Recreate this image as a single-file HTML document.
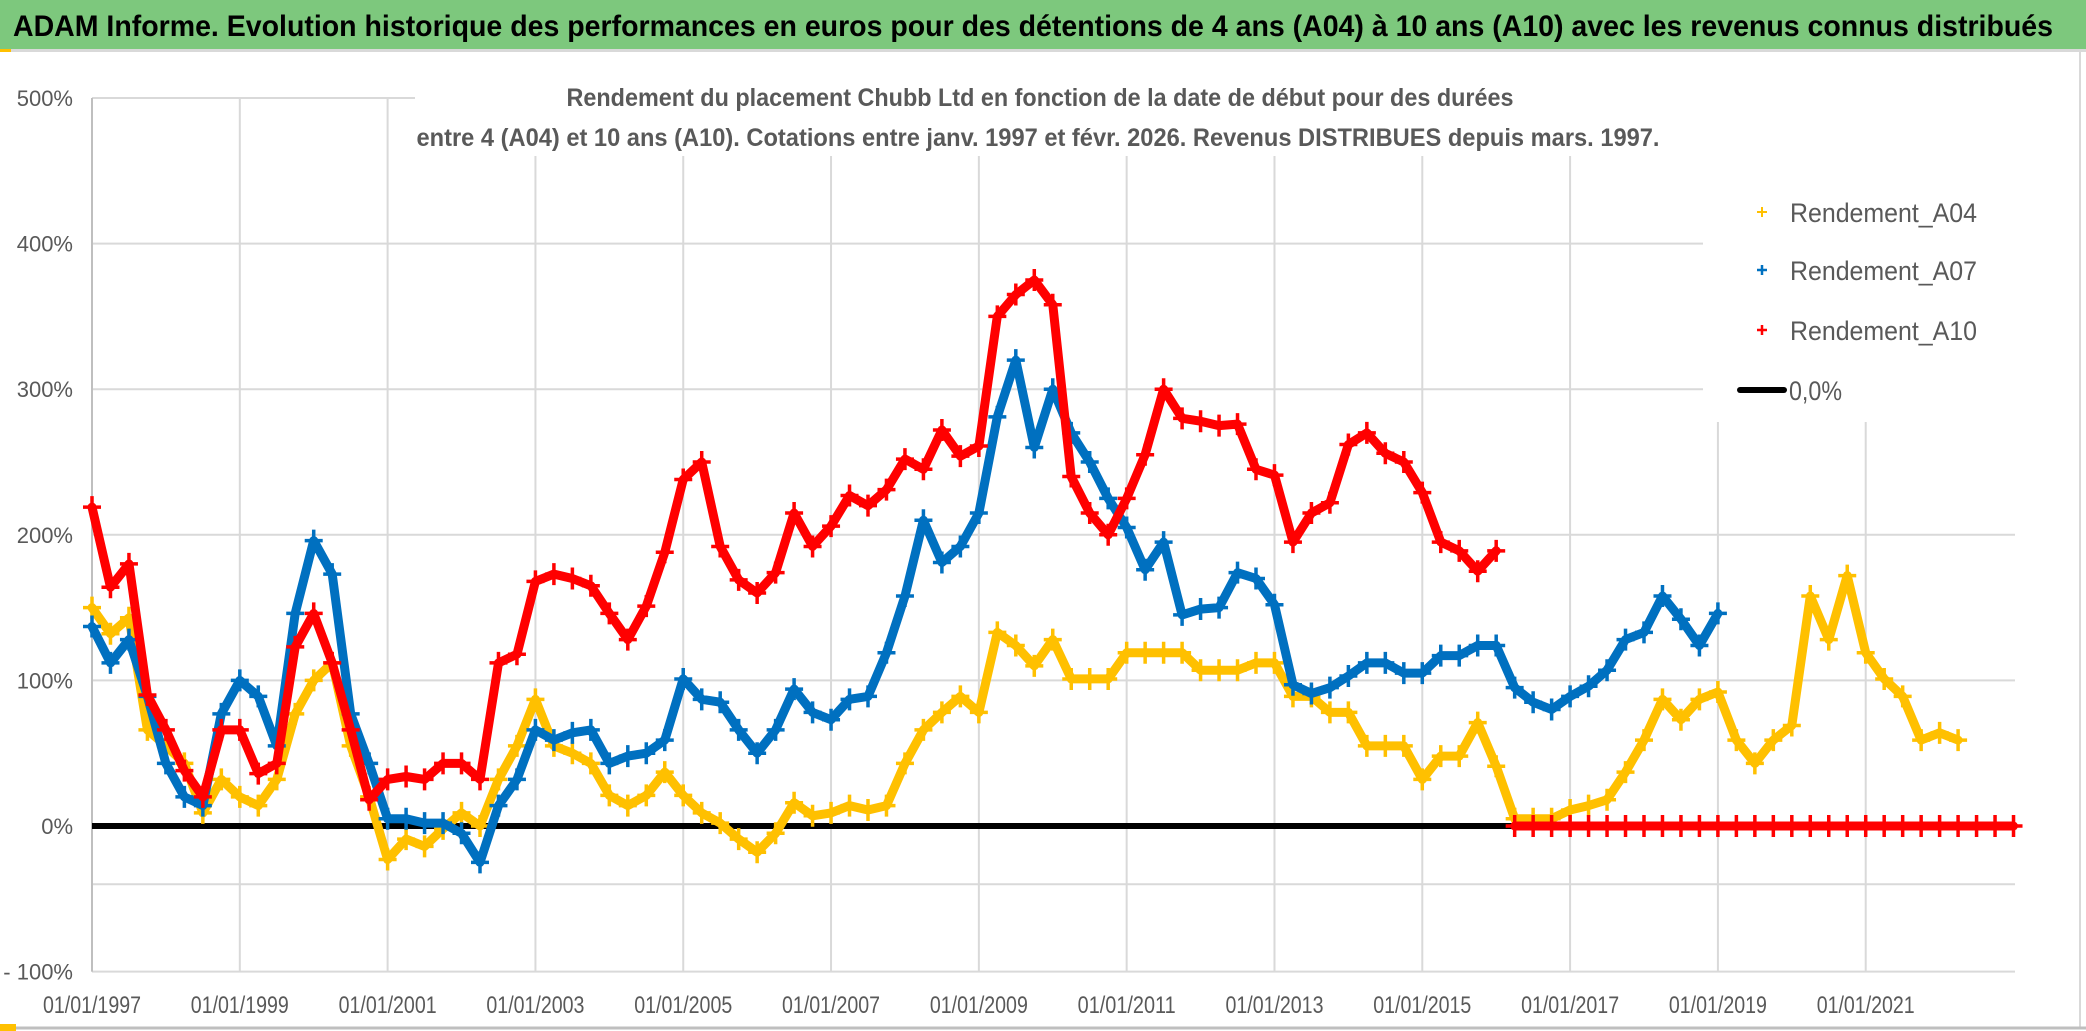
<!DOCTYPE html>
<html><head><meta charset="utf-8"><style>
html,body{margin:0;padding:0;background:#fff;}
svg{display:block;font-family:"Liberation Sans",sans-serif;}
</style></head><body>
<svg id="chart" width="2086" height="1031" viewBox="0 0 2086 1031" xmlns="http://www.w3.org/2000/svg">
<rect x="0" y="0" width="2086" height="1031" fill="#fff"/>
<rect x="0" y="0" width="2086" height="49" fill="#7dc87d"/>
<rect x="0" y="49" width="2086" height="3" fill="#d9d9d9"/>
<rect x="0" y="49" width="11" height="3" fill="#ffc000"/>
<text x="13" y="36" font-size="30" font-weight="bold" fill="#000" textLength="2040" lengthAdjust="spacingAndGlyphs">ADAM Informe. Evolution historique des performances en euros pour des détentions de 4 ans (A04) à 10 ans (A10) avec les revenus connus distribués</text>
<line x1="2080" y1="52" x2="2080" y2="1028" stroke="#d9d9d9" stroke-width="2"/>
<line x1="0" y1="1028" x2="2086" y2="1028" stroke="#bfbfbf" stroke-width="3"/>
<rect x="0" y="1024" width="16" height="7" fill="#ffc000"/>
<g id="grid"></g>
<g id="axes"></g>
<g id="series"></g>
<rect x="415" y="86" width="1605" height="70" fill="#fff"/>
<rect x="1703" y="86" width="317" height="336" fill="#fff"/>
<text x="1040" y="106" font-size="25" font-weight="bold" fill="#595959" text-anchor="middle" textLength="947" lengthAdjust="spacingAndGlyphs">Rendement du placement Chubb Ltd en fonction de la date de début pour des durées</text>
<text x="1038" y="146" font-size="25" font-weight="bold" fill="#595959" text-anchor="middle" textLength="1243" lengthAdjust="spacingAndGlyphs">entre 4 (A04) et 10 ans (A10). Cotations entre janv. 1997 et févr. 2026. Revenus DISTRIBUES depuis mars. 1997.</text>
<g>
 <g>
  <path d="M1757 212h10M1762 207v10" stroke="#ffc000" stroke-width="2"/>
  <text x="1790" y="222" font-size="27" fill="#595959" textLength="187" lengthAdjust="spacingAndGlyphs">Rendement_A04</text>
 </g>
 <g>
  <path d="M1757 270h10M1762 265v10" stroke="#0070c0" stroke-width="2.5"/>
  <text x="1790" y="280" font-size="27" fill="#595959" textLength="187" lengthAdjust="spacingAndGlyphs">Rendement_A07</text>
 </g>
 <g>
  <path d="M1757 330h10M1762 325v10" stroke="#ff0000" stroke-width="2.5"/>
  <text x="1790" y="340" font-size="27" fill="#595959" textLength="187" lengthAdjust="spacingAndGlyphs">Rendement_A10</text>
 </g>
 <g>
  <line x1="1740" y1="390" x2="1784" y2="390" stroke="#000" stroke-width="6" stroke-linecap="round"/>
  <text x="1789" y="400" font-size="27" fill="#595959" textLength="53" lengthAdjust="spacingAndGlyphs">0,0%</text>
 </g>
</g>
</svg>
<script>
// ---- data (quarterly values, % return) ----
const a04Start = 1997.0;
const a04Values = [150,132,143,66, 55,43,9,32, 20,14,32,77, 100,112,55,20, -23,-9,-14,-2, 9,0,32,55, 87,55,50,43, 21,14,21,37, 21,9,2,-9, -18,-5,16,7, 9,14,11,14, 43,66,78,89, 78,133,124,110, 128,101,101,101, 119,119,119,119, 107,107,107,112, 112,89,89,78, 78,55,55,55, 32,48,48,71, 41,5,5,5, 11,14,18,37, 59,87,73,87, 92,59,43,59, 69,158,128,172, 119,101,89,59, 64,59];
const a07Start = 1997.0;
const a07Values = [137,112,128,89, 43,20,14,77, 100,89,55,146, 196,173,77,43, 5,5,2,2, -5,-25,14,32, 66,59,64,66, 43,48,50,59, 101,87,85,66, 50,66,94,78, 73,87,89,119, 158,210,181,192, 215,281,320,260, 300,270,250,225, 205,176,195,145, 149,150,174,170, 152,97,91,95, 103,112,112,105, 105,117,117,124, 124,95,85,80, 89,96,107,128, 133,158,142,124, 146];
const a10Start = 1997.0;
const a10Values = [219,164,180,90, 66,38,20,66, 66,36,43,123, 146,112,66,18, 32,34,32,43, 43,32,112,118, 168,173,170,165, 146,128,151,188, 238,250,192,169, 160,174,215,192, 206,227,220,231, 252,245,272,254, 261,350,365,375, 358,240,215,200, 225,255,300,280, 278,275,276,245, 241,195,215,222, 262,270,256,250, 229,195,189,175, 189,0,0,0, 0,0,0,0, 0,0,0,0, 0,0,0,0, 0,0,0,0, 0,0,0,0, 0,0,0,0, 0];
const stepYears = 0.25;
const yTicks = [500,400,300,200,100,0,-100];
const yTickLabels = ["500%","400%","300%","200%","100%","0%","- 100%"];
const xTicks = [1997,1999,2001,2003,2005,2007,2009,2011,2013,2015,2017,2019,2021];
const xTickLabels = ["01/01/1997","01/01/1999","01/01/2001","01/01/2003","01/01/2005","01/01/2007","01/01/2009","01/01/2011","01/01/2013","01/01/2015","01/01/2017","01/01/2019","01/01/2021"];
const extraGridValue = -40;

// ---- scales ----
const X0 = 92, X1 = 2015, YR0 = 1997, YR1 = 2023.02;
const Y_ZERO = 826, PX_PER_PCT = 1.456;
function xs(yr){ return X0 + (yr - YR0) * (X1 - X0) / (YR1 - YR0); }
function ys(v){ return Y_ZERO - v * PX_PER_PCT; }

const NS = "http://www.w3.org/2000/svg";
function mk(tag, attrs, parent){
  const e = document.createElementNS(NS, tag);
  for (const k in attrs) e.setAttribute(k, attrs[k]);
  parent.appendChild(e);
  return e;
}
const grid = document.getElementById('grid');
const axes = document.getElementById('axes');
const series = document.getElementById('series');

yTicks.forEach((v, i) => {
  const l = mk('line', {x1:X0, x2:X1, y1:ys(v), y2:ys(v), stroke:'#d9d9d9', 'stroke-width':2}, grid);
  
  
  const t = mk('text', {x:73, y:ys(v)+8, 'font-size':22, fill:'#595959', 'text-anchor':'end'}, axes);
  t.textContent = yTickLabels[i];
  
  
});
const eg = mk('line', {x1:X0, x2:X1, y1:ys(extraGridValue), y2:ys(extraGridValue), stroke:'#d9d9d9', 'stroke-width':2}, grid);



xTicks.forEach((yr, i) => {
  const l = mk('line', {x1:xs(yr), x2:xs(yr), y1:ys(500), y2:ys(-100), stroke:'#d9d9d9', 'stroke-width':2}, grid);
  
  
  const t = mk('text', {x:xs(yr), y:1013, 'font-size':24, fill:'#595959', 'text-anchor':'middle', textLength:98, lengthAdjust:'spacingAndGlyphs'}, axes);
  t.textContent = xTickLabels[i];
  
  
});
const va = mk('line', {x1:X0, x2:X0, y1:ys(500), y2:ys(-100), stroke:'#bfbfbf', 'stroke-width':2}, axes);



const zl = mk('line', {x1:X0, x2:X1, y1:ys(0), y2:ys(0), stroke:'#000', 'stroke-width':6}, series);



function drawSeries(name, start, vals, color, bandW){
  const g = mk('g', {}, series);
  
  
  let seg = [];
  const segs = [];
  vals.forEach((v, i) => {
    if (i > 0 && Math.abs(v - vals[i-1]) > 120) { segs.push(seg); seg = []; }
    seg.push([xs(start + i*stepYears), ys(v)]);
  });
  segs.push(seg);
  segs.forEach(s => {
    if (s.length < 2) return;
    const p = mk('polyline', {points: s.map(q => q[0].toFixed(1)+','+q[1].toFixed(1)).join(' '), fill:'none', stroke:color, 'stroke-width':bandW, 'stroke-linejoin':'round', 'stroke-linecap':'round'}, g);
    
    
  });
  vals.forEach((v, i) => {
    const cx = xs(start + i*stepYears), cy = ys(v);
    const m = mk('path', {d:`M${cx-9} ${cy}h18M${cx} ${cy-11}v22`, stroke:color, 'stroke-width':3.5}, g);
    
    
  });
}
drawSeries('series-a04', a04Start, a04Values, '#ffc000', 9);
drawSeries('series-a07', a07Start, a07Values, '#0070c0', 9);
drawSeries('series-a10', a10Start, a10Values, '#ff0000', 9);
</script>
</body></html>
